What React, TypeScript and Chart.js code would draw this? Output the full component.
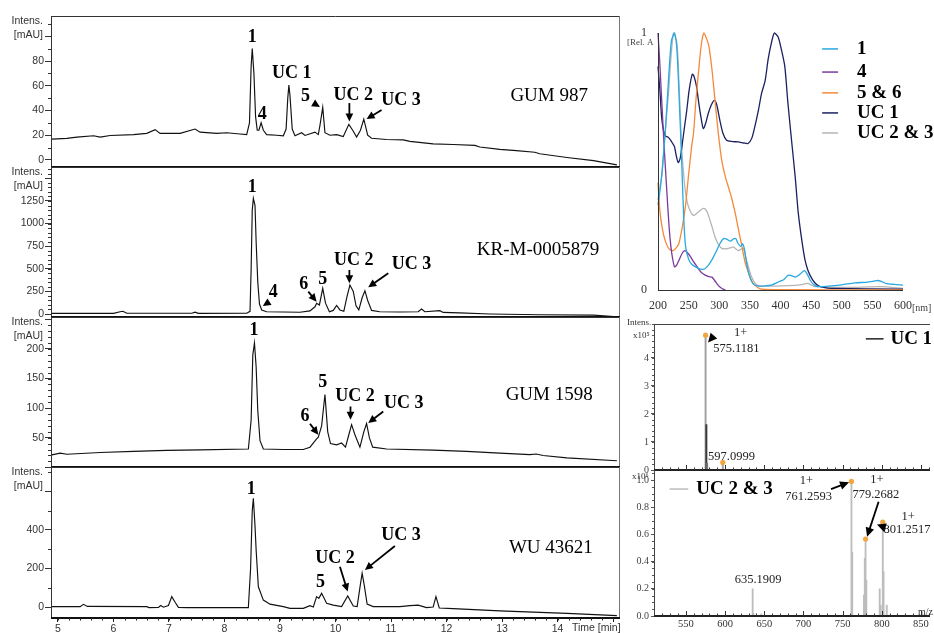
import React, { useEffect, useRef } from "react";
import { Chart, registerables } from "chart.js";

Chart.register(...registerables);

const W = 934;
const H = 633;
const SERIF = '"Liberation Serif", "Times New Roman", serif';
const SANS = '"Liberation Sans", Arial, sans-serif';

type Pair = [number, number];
type Label = [string, number, number];
type Arrow = [number, number, number, number, number];

// ===== Chromatograms: [retention time (min), intensity (mAU)] =====
const gum987: Pair[] = [
  [4.89, 16.8], [5.16, 17.5], [5.34, 18.5], [5.64, 19.6], [5.76, 18.5], [5.94, 19.8], [6.36, 20.5], [6.6, 21.5],
  [6.75, 24.5], [6.84, 21.5], [7.2, 21.5], [7.47, 25], [7.56, 22.5], [7.86, 21.5], [8.04, 22], [8.28, 21], [8.4, 20.5],
  [8.45, 30], [8.48, 76], [8.5, 90], [8.53, 70], [8.56, 35], [8.59, 24], [8.62, 24], [8.66, 30], [8.7, 24], [8.76, 20.5],
  [8.94, 20], [9.06, 19.5], [9.11, 25], [9.14, 50], [9.16, 60.5], [9.18, 52], [9.22, 25], [9.27, 19.5], [9.39, 22],
  [9.45, 19.8], [9.63, 22.5], [9.69, 20.5], [9.72, 28], [9.77, 42.5], [9.81, 22], [9.9, 20], [10.02, 20.5], [10.14, 19],
  [10.24, 28.8], [10.31, 24], [10.38, 18.5], [10.45, 24], [10.51, 33], [10.58, 20], [10.65, 17.5], [10.92, 16.5],
  [11.22, 16.2], [11.34, 15], [11.76, 13], [12.12, 12.5], [12.51, 11.8], [12.6, 10.5], [12.96, 8.5], [13.26, 7.5],
  [13.59, 6.2], [13.68, 5], [14.17, 2], [14.65, -0.5], [15.07, -4],
];
const krM0005879: Pair[] = [
  [4.89, 7], [6.0, 7], [6.12, 25], [6.17, 30], [6.24, 8], [7.41, 8], [7.47, 20], [7.53, 7], [8.4, 8], [8.46, 30],
  [8.48, 500], [8.5, 1150], [8.52, 1279], [8.55, 1200], [8.57, 800], [8.6, 350], [8.63, 110], [8.67, 45], [8.76, 25],
  [9.06, 22], [9.36, 20], [9.54, 35], [9.63, 80], [9.66, 118], [9.71, 100], [9.77, 284], [9.82, 120], [9.89, 25],
  [9.96, 40], [10.02, 95], [10.08, 45], [10.15, 30], [10.21, 200], [10.26, 321], [10.32, 250], [10.37, 90], [10.42, 45],
  [10.48, 180], [10.53, 258], [10.58, 150], [10.65, 40], [10.8, 25], [11.16, 22], [11.49, 25], [11.55, 55], [11.61, 25],
  [11.88, 37], [11.94, 18], [12.24, 12], [12.78, 0], [13.68, -8], [14.65, -12], [15.07, -30],
];
const gum1598: Pair[] = [
  [4.89, 21], [5.04, 24], [5.16, 22], [5.76, 25], [6.36, 27], [6.96, 28.5], [7.56, 29.5], [8.43, 31], [8.48, 80],
  [8.51, 190], [8.54, 210], [8.57, 170], [8.6, 95], [8.64, 45], [8.7, 31], [9.06, 30], [9.42, 30], [9.54, 34], [9.66, 48],
  [9.69, 51], [9.75, 70], [9.81, 123], [9.86, 60], [9.91, 40], [10.02, 38], [10.11, 41], [10.18, 34], [10.24, 55],
  [10.29, 72], [10.35, 55], [10.44, 34], [10.51, 60], [10.56, 74], [10.61, 50], [10.67, 34], [10.92, 31], [11.76, 29],
  [12.36, 27], [12.96, 24], [13.5, 21.5], [13.62, 22.5], [13.74, 20], [14.17, 16], [15.07, 11],
];
const wu43621: Pair[] = [
  [4.89, 2], [5.4, 2], [5.46, 14], [5.53, 3], [6.6, 2], [6.64, -3], [6.81, -2], [6.85, 8], [6.9, -1], [6.99, 8],
  [7.05, 54], [7.11, 25], [7.17, -2], [7.32, -3.5], [8.43, -3], [8.47, 200], [8.5, 500], [8.52, 565], [8.55, 420],
  [8.57, 296], [8.61, 105], [8.7, 36], [8.82, 15], [9.06, 2], [9.18, -7], [9.42, -7], [9.54, 7], [9.6, 0], [9.66, 54],
  [9.7, 45], [9.75, 71], [9.84, 19], [9.96, 10], [10.11, 2], [10.22, 57], [10.32, 5], [10.39, 2], [10.45, 120],
  [10.48, 175], [10.52, 110], [10.57, 15], [10.68, 2], [11.16, 2], [11.34, 7], [11.49, 10], [11.64, -3], [11.76, 0],
  [11.81, 54], [11.87, -5], [12.12, -8], [12.96, -20], [14.17, -33], [15.07, -45],
];

const timeTicks = [5, 6, 7, 8, 9, 10, 11, 12, 13, 14, 15];
const timeLabels = [5, 6, 7, 8, 9, 10, 11, 12, 13, 14];

const gum987YTicks = [0, 20, 40, 60, 80, 100];
const gum987YLabels = [0, 20, 40, 60, 80];
const krYTicks = [0, 250, 500, 750, 1000, 1250, 1500];
const krYLabels = [0, 250, 500, 750, 1000, 1250];
const gum1598YTicks = [0, 50, 100, 150, 200, 250];
const gum1598YLabels = [50, 100, 150, 200];
const wuYTicks = [0, 200, 400, 600];
const wuYLabels = [0, 200, 400];

// peak labels: [text, time, intensity]
const gum987Peaks: Label[] = [["1", 8.5, 99], ["4", 8.68, 36.8], ["UC 1", 9.21, 70], ["5", 9.46, 51.7], ["UC 2", 10.32, 52], ["UC 3", 11.18, 48.5]];
const gum987Arrows: Arrow[] = [[9.54, 47.7, 9.72, 42.8, 1], [10.25, 46, 10.25, 31, 0], [10.83, 40.4, 10.56, 33.1, 0]];
const krPeaks: Label[] = [["1", 8.5, 1399], ["4", 8.88, 243], ["6", 9.43, 332], ["5", 9.77, 387], ["UC 2", 10.33, 597], ["UC 3", 11.37, 553]];
const krArrows: Arrow[] = [[8.86, 155, 8.69, 88, 1], [9.51, 247, 9.66, 136, 0], [10.25, 487, 10.25, 340, 0], [10.95, 450, 10.59, 295, 0]];
const gum1598Peaks: Label[] = [["1", 8.53, 231], ["6", 9.45, 86.6], ["5", 9.77, 144], ["UC 2", 10.35, 119.7], ["UC 3", 11.23, 107.4]];
const gum1598Arrows: Arrow[] = [[9.54, 73.7, 9.69, 55, 0], [10.27, 102.8, 10.27, 80.4, 0], [10.86, 94.4, 10.59, 74.8, 0]];
const wuPeaks: Label[] = [["1", 8.48, 612], ["5", 9.73, 127], ["UC 2", 9.99, 253], ["UC 3", 11.18, 374]];
const wuArrows: Arrow[] = [[10.08, 209, 10.22, 80, 0], [11.07, 317, 10.53, 192, 0]];

function rng(a: number, b: number, step: number): number[] {
  const out: number[] = [];
  for (let v = a; v <= b + 1e-9; v += step) out.push(Math.round(v * 1000) / 1000);
  return out;
}

const chromPanels = [
  { name: "GUM 987", nameAt: [13.85, 52], trace: gum987, top: 16, bottom: 167, min: -5.7, max: 116.4, major: gum987YTicks, labels: gum987YLabels, minor: rng(10, 110, 20), peaks: gum987Peaks, arrows: gum987Arrows },
  { name: "KR-M-0005879", nameAt: [13.65, 708], trace: krM0005879, top: 167, bottom: 317, min: -33, max: 1626, major: krYTicks, labels: krYLabels, minor: rng(0, 1600, 50), peaks: krPeaks, arrows: krArrows },
  { name: "GUM 1598", nameAt: [13.85, 122.5], trace: gum1598, top: 317, bottom: 467, min: 0.5, max: 254, major: gum1598YTicks, labels: gum1598YLabels, minor: rng(0, 250, 10), peaks: gum1598Peaks, arrows: gum1598Arrows },
  { name: "WU 43621", nameAt: [13.88, 305], trace: wu43621, top: 467, bottom: 618, min: -57, max: 727, major: wuYTicks, labels: wuYLabels, minor: rng(100, 700, 200), peaks: wuPeaks, arrows: wuArrows },
];

// ===== UV spectra: [wavelength (nm), relative absorbance] =====
const uv1: Pair[] = [
  [200, 0.33], [205, 0.42], [212, 0.62], [218, 0.85], [222, 0.97], [227, 1.0], [231, 0.93], [235, 0.72], [239, 0.48],
  [242, 0.28], [245, 0.17], [250, 0.12], [255, 0.1], [265, 0.085], [273, 0.08], [280, 0.09], [288, 0.117], [295, 0.15],
  [301, 0.18], [307, 0.2], [312, 0.198], [318, 0.19], [324, 0.2], [327, 0.2], [331, 0.18], [335, 0.17], [338, 0.18],
  [341, 0.16], [345, 0.1], [350, 0.05], [355, 0.025], [362, 0.016], [375, 0.016], [386, 0.02], [397, 0.032], [405, 0.04],
  [413, 0.058], [419, 0.055], [424, 0.05], [430, 0.058], [439, 0.075], [444, 0.06], [449, 0.036], [455, 0.02],
  [462, 0.013], [483, 0.016], [500, 0.02], [521, 0.028], [540, 0.03], [552, 0.034], [559, 0.037], [565, 0.033],
  [572, 0.026], [585, 0.022], [600, 0.019],
];
const uv4: Pair[] = [
  [200, 1.0], [203, 0.88], [206, 0.74], [210, 0.56], [214, 0.4], [218, 0.25], [221, 0.17], [224, 0.12], [227, 0.09],
  [230, 0.095], [235, 0.12], [240, 0.145], [244, 0.153], [248, 0.145], [253, 0.13], [258, 0.11], [264, 0.09], [270, 0.07],
  [277, 0.058], [283, 0.052], [288, 0.05], [293, 0.035], [299, 0.016], [305, 0.005], [310, 0],
];
const uv56: Pair[] = [
  [200, 0.417], [203, 0.31], [207, 0.24], [212, 0.19], [218, 0.16], [225, 0.153], [230, 0.165], [234, 0.18], [240, 0.25],
  [245, 0.33], [250, 0.45], [255, 0.56], [258, 0.61], [262, 0.74], [267, 0.87], [271, 0.96], [275, 1.0], [279, 0.98],
  [283, 0.95], [288, 0.86], [293, 0.74], [298, 0.62], [304, 0.505], [310, 0.44], [315, 0.4], [320, 0.36], [326, 0.3],
  [331, 0.24], [337, 0.17], [342, 0.11], [348, 0.065], [353, 0.035], [358, 0.019], [364, 0.008], [370, 0.003],
  [400, 0.001], [600, 0.0],
];
const uvUC1: Pair[] = [
  [200, 0.87], [203, 0.78], [206, 0.67], [209, 0.62], [212, 0.6], [216, 0.595], [220, 0.585], [224, 0.57], [227, 0.557],
  [230, 0.52], [233, 0.496], [236, 0.51], [239, 0.557], [243, 0.63], [247, 0.7], [251, 0.78], [256, 0.84], [259, 0.83],
  [263, 0.79], [267, 0.72], [271, 0.66], [274, 0.628], [278, 0.65], [282, 0.687], [287, 0.72], [292, 0.738], [296, 0.72],
  [301, 0.66], [306, 0.61], [312, 0.583], [320, 0.578], [331, 0.576], [340, 0.572], [347, 0.57], [353, 0.59],
  [358, 0.635], [364, 0.7], [369, 0.764], [375, 0.816], [380, 0.9], [386, 0.97], [390, 1.0], [396, 0.985], [401, 0.94],
  [407, 0.87], [412, 0.73], [418, 0.583], [424, 0.44], [429, 0.3], [435, 0.19], [440, 0.117], [445, 0.075], [451, 0.045],
  [456, 0.028], [462, 0.016], [470, 0.01], [483, 0.006], [600, 0.003],
];
const uvUC23: Pair[] = [
  [200, 0.35], [203, 0.4], [206.5, 0.45], [210, 0.56], [214, 0.68], [217, 0.76], [221, 0.9], [225.5, 1.0], [231, 0.96],
  [234, 0.82], [237, 0.65], [239, 0.54], [243, 0.42], [247, 0.35], [252, 0.31], [258, 0.29], [264, 0.3], [269, 0.31],
  [273, 0.317], [277, 0.315], [281, 0.3], [285, 0.27], [289, 0.24], [293, 0.207], [298, 0.18], [304, 0.162], [310, 0.16],
  [315, 0.162], [319, 0.165], [323, 0.168], [327, 0.16], [331, 0.153], [335, 0.158], [339.5, 0.162], [343, 0.13],
  [347.6, 0.09], [352, 0.055], [358.5, 0.026], [365, 0.016], [380, 0.015], [402, 0.016], [429, 0.019], [440, 0.024],
  [445, 0.026], [450, 0.02], [456, 0.013], [510, 0.01], [565, 0.013], [600, 0.006],
];
const uvNames = ["1", "4", "5 & 6", "UC 1", "UC 2 & 3"];
const uvColors = ["#2aa8e0", "#7b3b9e", "#f5893a", "#1c2060", "#b5b5b5"];
const uvTicks = [200, 250, 300, 350, 400, 450, 500, 550, 600];

// ===== Mass spectra =====
const uc1Mz = [575.1181, 576.12, 577.12, 597.0999];
const uc1Int = [4.81, 1.62, 0.25, 0.27]; // x10^5
const uc1Labeled = [575.1181, 597.0999];
const uc23Mz = [635.1909, 636.19, 646.2, 761.2593, 762.26, 777.26, 778.27, 779.2682, 780.27, 797.3, 798.6, 801.2517, 802.25, 806.3];
const uc23Int = [0.2, 0.02, 0.015, 0.99, 0.47, 0.154, 0.424, 0.566, 0.265, 0.2, 0.08, 0.69, 0.326, 0.08]; // x10^6
const uc23Labeled = [761.2593, 779.2682, 801.2517];
const mzTicks = [550, 600, 650, 700, 750, 800, 850];

// ---------- drawing helpers ----------
function arrow(ctx: CanvasRenderingContext2D, X1: number, Y1: number, X2: number, Y2: number, head: number, headOnly: boolean) {
  const ang = Math.atan2(Y2 - Y1, X2 - X1);
  const c = Math.cos(ang), s = Math.sin(ang);
  const hw = head * 0.48;
  const bx = X2 - head * c, by = Y2 - head * s;
  ctx.fillStyle = "#000";
  ctx.strokeStyle = "#000";
  ctx.lineWidth = 1.8;
  if (!headOnly) {
    ctx.beginPath();
    ctx.moveTo(X1, Y1);
    ctx.lineTo(bx + c, by + s);
    ctx.stroke();
  }
  ctx.beginPath();
  ctx.moveTo(X2, Y2);
  ctx.lineTo(bx - hw * s, by + hw * c);
  ctx.lineTo(bx + hw * s, by - hw * c);
  ctx.closePath();
  ctx.fill();
}

function text(ctx: CanvasRenderingContext2D, s: string, x: number, y: number, font: string, align: CanvasTextAlign = "center", color = "#000") {
  ctx.font = font;
  ctx.fillStyle = color;
  ctx.textAlign = align;
  ctx.textBaseline = "middle";
  ctx.fillText(s, x, y);
}

function hline(ctx: CanvasRenderingContext2D, x1: number, x2: number, y: number, color: string, w = 1) {
  ctx.strokeStyle = color;
  ctx.lineWidth = w;
  ctx.beginPath();
  ctx.moveTo(x1, y);
  ctx.lineTo(x2, y);
  ctx.stroke();
}
function vline(ctx: CanvasRenderingContext2D, x: number, y1: number, y2: number, color: string, w = 1) {
  ctx.strokeStyle = color;
  ctx.lineWidth = w;
  ctx.beginPath();
  ctx.moveTo(x, y1);
  ctx.lineTo(x, y2);
  ctx.stroke();
}

const tickFontSans = { family: SANS, size: 10.5 };

function chromConfig(p: any, idx: number) {
  const isLast = idx === chromPanels.length - 1;
  const decor = {
    id: "chromDecor" + idx,
    afterDraw(chart: any) {
      const { ctx, chartArea: a, scales } = chart;
      const xs = scales.x, ys = scales.y;
      ctx.save();
      for (const v of p.minor) {
        const py = Math.round(ys.getPixelForValue(v)) + 0.5;
        if (py < a.top - 0.5 || py > a.bottom + 0.5) continue;
        hline(ctx, a.left - 3, a.left, py, "#333");
      }
      hline(ctx, a.left, a.right, Math.round(a.top) + 0.5, "#333");
      vline(ctx, Math.round(a.left) + 0.5, a.top, a.bottom, "#333");
      vline(ctx, Math.round(a.right) - 0.5, a.top, a.bottom, "#777");
      ctx.fillStyle = "#111";
      ctx.fillRect(a.left, Math.round(a.bottom) - 1, a.right - a.left, 2);
      if (isLast) {
        for (const v of rng(5, 15, 0.2)) {
          const px = Math.round(xs.getPixelForValue(v)) + 0.5;
          vline(ctx, px, a.bottom, a.bottom + 2.5, "#222");
        }
        text(ctx, "Time [min]", 572, a.bottom + 10, `10.5px ${SANS}`, "left", "#333");
      }
      text(ctx, "Intens.", a.left - 8, a.top + 5.5, `10.5px ${SANS}`, "right", "#333");
      text(ctx, "[mAU]", a.left - 8, a.top + 19, `10.5px ${SANS}`, "right", "#333");
      for (const [s, t, v] of p.peaks) {
        text(ctx, s, xs.getPixelForValue(t), ys.getPixelForValue(v), `bold 18px ${SERIF}`);
      }
      for (const [x1, y1, x2, y2, ho] of p.arrows) {
        arrow(ctx, xs.getPixelForValue(x1), ys.getPixelForValue(y1), xs.getPixelForValue(x2), ys.getPixelForValue(y2), 8, !!ho);
      }
      text(ctx, p.name, xs.getPixelForValue(p.nameAt[0]), ys.getPixelForValue(p.nameAt[1]), `19px ${SERIF}`);
      ctx.restore();
    },
  };
  return {
    type: "line",
    data: {
      datasets: [
        {
          data: p.trace.map(([x, y]: Pair) => ({ x, y })),
          borderColor: "#111",
          borderWidth: 1.15,
          pointRadius: 0,
          tension: 0,
          fill: false,
        },
      ],
    },
    options: {
      animation: false,
      responsive: false,
      events: [],
      layout: { padding: { left: 6, right: W - 620, top: p.top, bottom: isLast ? 0 : H - p.bottom } },
      plugins: { legend: { display: false }, tooltip: { enabled: false } },
      scales: {
        x: {
          type: "linear",
          min: 4.874,
          max: 15.126,
          display: isLast,
          afterFit: isLast ? (s: any) => { s.height = 15; } : undefined,
          afterBuildTicks: (s: any) => { s.ticks = timeTicks.map((v) => ({ value: v })); },
          ticks: {
            callback: (v: number) => (timeLabels.includes(v) ? String(v) : ""),
            font: tickFontSans,
            color: "#333",
            padding: 1,
            maxRotation: 0,
            autoSkip: false,
          },
          grid: { drawOnChartArea: false, tickLength: 4, color: "#222" },
          border: { display: false },
        },
        y: {
          type: "linear",
          min: p.min,
          max: p.max,
          afterFit: (s: any) => { s.width = 45; },
          afterBuildTicks: (s: any) => { s.ticks = p.major.map((v: number) => ({ value: v })); },
          ticks: {
            callback: (v: number) => (p.labels.includes(v) ? String(v) : ""),
            font: tickFontSans,
            color: "#333",
            padding: 1,
            autoSkip: false,
          },
          grid: { drawOnChartArea: false, tickLength: 6, color: "#333" },
          border: { display: false },
        },
      },
    },
    plugins: [decor],
  };
}

function uvConfig() {
  const series = [uv1, uv4, uv56, uvUC1, uvUC23];
  const legendY = [0.938, 0.848, 0.767, 0.689, 0.611];
  const decor = {
    id: "uvDecor",
    afterDraw(chart: any) {
      const { ctx, chartArea: a, scales } = chart;
      const xs = scales.x, ys = scales.y;
      ctx.save();
      vline(ctx, Math.round(a.left) + 0.5, a.top, a.bottom, "#333");
      hline(ctx, a.left, a.right, Math.round(a.bottom) + 0.5, "#333");
      text(ctx, "[Rel. A", a.left - 31, a.top + 10, `9px ${SERIF}`, "left", "#444");
      text(ctx, "[nm]", a.right + 9, a.bottom + 18, `10px ${SERIF}`, "left", "#444");
      uvNames.forEach((name, i) => {
        const py = ys.getPixelForValue(legendY[i]);
        hline(ctx, xs.getPixelForValue(468), xs.getPixelForValue(494), py, uvColors[i], 1.5);
        text(ctx, name, xs.getPixelForValue(525), py, `bold 19px ${SERIF}`, "left");
      });
      ctx.restore();
    },
  };
  return {
    type: "line",
    data: {
      datasets: series.map((s, i) => ({
        label: uvNames[i],
        data: s.map(([x, y]) => ({ x, y })),
        borderColor: uvColors[i],
        borderWidth: 1.3,
        pointRadius: 0,
        tension: 0.25,
        fill: false,
        clip: 3,
      })),
    },
    options: {
      animation: false,
      responsive: false,
      events: [],
      layout: { padding: { left: 628, right: W - 903, top: 33, bottom: H - 290 - 25 } },
      plugins: { legend: { display: false }, tooltip: { enabled: false } },
      scales: {
        x: {
          type: "linear",
          min: 200,
          max: 600,
          afterFit: (s: any) => { s.height = 25; },
          afterBuildTicks: (s: any) => { s.ticks = uvTicks.map((v) => ({ value: v })); },
          ticks: { font: { family: SERIF, size: 12 }, color: "#333", padding: 9, maxRotation: 0, autoSkip: false },
          grid: { display: false, drawTicks: false },
          border: { display: false },
        },
        y: {
          type: "linear",
          min: 0,
          max: 1,
          afterFit: (s: any) => { s.width = 30; },
          afterBuildTicks: (s: any) => { s.ticks = [{ value: 0 }, { value: 1 }]; },
          ticks: { font: { family: SERIF, size: 12 }, color: "#333", padding: 11 },
          grid: { display: false, drawTicks: false },
          border: { display: false },
        },
      },
    },
    plugins: [decor],
  };
}

function msConfig(kind: 1 | 2) {
  const one = kind === 1;
  const mz = one ? uc1Mz : uc23Mz;
  const inten = one ? uc1Int : uc23Int;
  const labeled = one ? uc1Labeled : uc23Labeled;
  const barColors = one ? ["#a0a0a0", "#3a3a3a", "#777", "#a0a0a0"] : mz.map(() => "#bdbdbd");
  const yTicks = one ? [0, 1, 2, 3, 4] : [0, 0.2, 0.4, 0.6, 0.8, 1.0];
  const yMinor = one ? rng(0, 5.2, 0.2) : rng(0, 1.05, 0.05);
  const notes: [string, number, number, CanvasTextAlign][] = one
    ? [["1+", 619.8, 4.89, "center"], ["575.1181", 614.4, 4.32, "center"], ["597.0999", 578.3, 0.49, "left"]]
    : [
        ["1+", 703.7, 0.993, "center"], ["761.2593", 706.6, 0.877, "center"], ["1+", 793.8, 1.0, "center"],
        ["779.2682", 792.5, 0.89, "center"], ["1+", 833.6, 0.73, "center"], ["801.2517", 802.2, 0.632, "left"],
        ["635.1909", 642.1, 0.265, "center"],
      ];
  const arrows: Arrow[] = one
    ? [[587.1, 4.84, 578.3, 4.55, 1]]
    : [[735.2, 0.934, 758.2, 0.983, 0], [795.9, 0.84, 781.2, 0.583, 0], [806, 0.647, 793.8, 0.674, 1]];
  const decor = {
    id: "msDecor" + kind,
    afterDraw(chart: any) {
      const { ctx, chartArea: a, scales } = chart;
      const xs = scales.x, ys = scales.y;
      ctx.save();
      vline(ctx, Math.round(a.left) + 0.5, a.top, a.bottom, "#444");
      if (one) hline(ctx, a.left, a.right, Math.round(a.top) + 0.5, "#444");
      ctx.fillStyle = "#222";
      ctx.fillRect(a.left, Math.round(a.bottom) - 1, a.right - a.left, 2);
      for (const v of rng(520, 860, 10)) {
        const px = Math.round(xs.getPixelForValue(v)) + 0.5;
        const major = v % 50 === 0;
        vline(ctx, px, a.bottom - (major ? 5 : 2.5), a.bottom, "#333");
      }
      for (const v of yMinor) {
        const py = Math.round(ys.getPixelForValue(v)) + 0.5;
        if (py < a.top) continue;
        hline(ctx, a.left - 2, a.left, py, "#555");
      }
      if (one) {
        text(ctx, "Intens.", a.left - 27, a.top - 1, `9px ${SERIF}`, "left", "#333");
        text(ctx, "x10\u2075", a.left - 21, a.top + 12, `9px ${SERIF}`, "left", "#333");
      } else {
        text(ctx, "x10\u2076", a.left - 22, a.top + 7, `9px ${SERIF}`, "left", "#333");
        text(ctx, "m/z", a.right - 12, a.bottom - 4, `10px ${SERIF}`, "left", "#333");
        for (const v of mzTicks) {
          text(ctx, String(v), xs.getPixelForValue(v), a.bottom + 8.5, `10.5px ${SERIF}`, "center", "#333");
        }
      }
      for (const [s, x, y, al] of notes) {
        text(ctx, s, xs.getPixelForValue(x), ys.getPixelForValue(y), `12.5px ${SERIF}`, al, "#222");
      }
      for (const [x1, y1, x2, y2, ho] of arrows) {
        arrow(ctx, xs.getPixelForValue(x1), ys.getPixelForValue(y1), xs.getPixelForValue(x2), ys.getPixelForValue(y2), 9, !!ho);
      }
      const ly = ys.getPixelForValue(one ? 4.68 : 0.934);
      if (one) {
        hline(ctx, xs.getPixelForValue(779.6), xs.getPixelForValue(802.2), ly, "#222", 1.5);
        text(ctx, "UC 1", xs.getPixelForValue(811), ly, `bold 19px ${SERIF}`, "left");
      } else {
        hline(ctx, xs.getPixelForValue(529.2), xs.getPixelForValue(553.1), ly, "#bbb", 1.5);
        text(ctx, "UC 2 & 3", xs.getPixelForValue(563.2), ly, `bold 19px ${SERIF}`, "left");
      }
      ctx.restore();
    },
  };
  return {
    type: "bar",
    data: {
      datasets: [
        {
          type: "line",
          showLine: false,
          data: labeled.map((m) => ({ x: m, y: inten[mz.indexOf(m)] })),
          pointRadius: 2.6,
          pointBackgroundColor: "#f2a541",
          pointBorderWidth: 0,
          order: 0,
        },
        {
          type: "bar",
          data: mz.map((m, i) => ({ x: m, y: inten[i] })),
          backgroundColor: barColors,
          barThickness: one ? 1.3 : 1.2,
          borderWidth: 0,
          order: 1,
        },
      ],
    },
    options: {
      animation: false,
      responsive: false,
      events: [],
      layout: { padding: { left: 634, right: 0, top: one ? 324 : 470, bottom: one ? H - 470 : H - 616 } },
      plugins: { legend: { display: false }, tooltip: { enabled: false } },
      scales: {
        x: {
          type: "linear",
          offset: false,
          min: 509.3,
          max: 861.5,
          display: false,
          grid: { offset: false },
        },
        y: {
          type: "linear",
          min: 0,
          max: one ? 5.21 : 1.074,
          afterFit: (s: any) => { s.width = 20; },
          afterBuildTicks: (s: any) => { s.ticks = yTicks.map((v) => ({ value: v })); },
          ticks: {
            font: { family: SERIF, size: 10 },
            color: "#444",
            padding: 2,
            callback: (v: number) => (one ? String(v) : v.toFixed(1)),
          },
          grid: { drawOnChartArea: false, tickLength: 3, color: "#555" },
          border: { display: false },
        },
      },
    },
    plugins: [decor],
  };
}

export default function App() {
  const refs = useRef<(HTMLCanvasElement | null)[]>([]);
  useEffect(() => {
    const configs: any[] = [...chromPanels.map((p, i) => chromConfig(p, i)), uvConfig(), msConfig(1), msConfig(2)];
    const charts = configs.map((cfg, i) => new Chart(refs.current[i] as HTMLCanvasElement, cfg));
    return () => charts.forEach((c) => c.destroy());
  }, []);
  return (
    <div style={{ position: "fixed", left: 0, top: 0, width: W, height: H, background: "#fff", overflow: "hidden" }}>
      {Array.from({ length: 7 }).map((_, i) => (
        <canvas
          key={i}
          ref={(el) => { refs.current[i] = el; }}
          width={W}
          height={H}
          style={{ position: "absolute", left: 0, top: 0, width: W, height: H }}
        />
      ))}
    </div>
  );
}
